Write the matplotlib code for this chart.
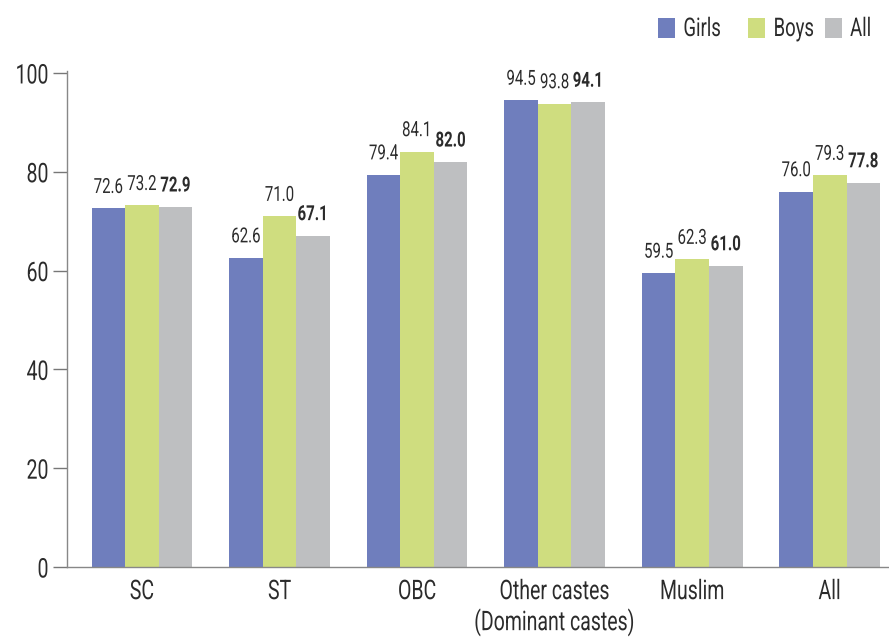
import matplotlib
matplotlib.use("Agg")
import matplotlib.pyplot as plt
from matplotlib.patches import Rectangle
from matplotlib.patheffects import AbstractPathEffect
from matplotlib.transforms import Affine2D
import numpy as np

plt.rcParams['font.family'] = ['Roboto', 'DejaVu Sans']

categories = ["SC", "ST", "OBC", "Other castes\n(Dominant castes)", "Muslim", "All"]
girls = [72.6, 62.6, 79.4, 94.5, 59.5, 76.0]
boys = [73.2, 71.0, 84.1, 93.8, 62.3, 79.3]
all_students = [72.9, 67.1, 82.0, 94.1, 61.0, 77.8]
series_names = ["Girls", "Boys", "All"]
colors = ["#6f7ebd", "#cfdd7f", "#bebfc1"]
y_ticks = [0, 20, 40, 60, 80, 100]


class Narrow(AbstractPathEffect):
    """Squeeze text horizontally to get a condensed look."""

    def __init__(self, sx=0.72, anchor="center"):
        super().__init__()
        self.sx = sx
        self.anchor = anchor

    def draw_path(self, renderer, gc, tpath, affine, rgbFace=None):
        ext = affine.transform_path(tpath).get_extents()
        if self.anchor == "left":
            cx = ext.x0
        elif self.anchor == "right":
            cx = ext.x1
        else:
            cx = 0.5 * (ext.x0 + ext.x1)
        squeeze = Affine2D().translate(-cx, 0).scale(self.sx, 1).translate(cx, 0)
        renderer.draw_path(gc, tpath, affine + squeeze, rgbFace)


TXT = "#2b2b2b"

fig = plt.figure(figsize=(8.89, 6.38), dpi=100)
ax = fig.add_axes([67 / 889, 1 - 567 / 638, 1 - 67 / 889, (567 - 70.5) / 638])

x = np.arange(len(categories))
w = 0.244
series = [girls, boys, all_students]
for i, (vals, col) in enumerate(zip(series, colors)):
    pos = x + (i - 1) * w
    ax.bar(pos, vals, width=w, color=col, zorder=2)
    for p, v in zip(pos, vals):
        t = ax.text(p, v + 2.3, f"{v:.1f}", ha="center", va="bottom",
                    fontsize=15, color=TXT,
                    fontweight="bold" if i == 2 else "normal")
        t.set_path_effects([Narrow(0.72, "center")])

ax.set_xlim(-0.545, 5.43)
ax.set_ylim(0, 100.5)
ax.set_yticks(y_ticks)
ax.set_yticklabels([str(t) for t in y_ticks])
ax.set_xticks(x)
ax.set_xticklabels(categories, fontsize=19.5, color=TXT, linespacing=1.12)
ax.tick_params(axis="x", length=0, pad=8)
ax.tick_params(axis="y", length=10, width=1, color="#777777", labelsize=19.5,
               labelcolor=TXT, pad=3)
for lab in ax.get_yticklabels():
    lab.set_path_effects([Narrow(0.72, "right")])
for lab in ax.get_xticklabels():
    lab.set_path_effects([Narrow(0.72, "center")])
for s in ["top", "right"]:
    ax.spines[s].set_visible(False)
for s in ["left", "bottom"]:
    ax.spines[s].set_color("#888888")
    ax.spines[s].set_linewidth(1)

# legend across the top right
legend_x = [658, 748, 825]
for name, col, lx in zip(series_names, colors, legend_x):
    fig.patches.append(Rectangle((lx / 889, 1 - 38 / 638), 17 / 889, 20 / 638,
                                 transform=fig.transFigure, facecolor=col,
                                 edgecolor="none"))
    t = fig.text((lx + 25) / 889, 1 - 29 / 638, name, ha="left", va="center",
                 fontsize=18.5, color=TXT)
    t.set_path_effects([Narrow(0.72, "left")])

fig.savefig("out.png", dpi=100)
